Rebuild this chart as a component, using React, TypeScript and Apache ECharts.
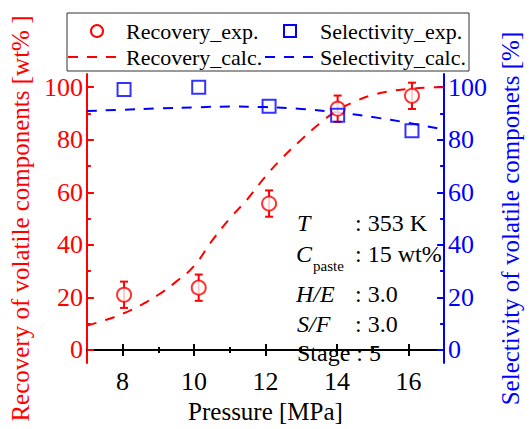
import React, { useEffect, useRef } from "react";
import * as echarts from "echarts";

const pressure = [8.04, 10.13, 12.1, 14.02, 16.1];
const recoveryExp = [21, 23.7, 55.7, 91.8, 96.7];
const recoveryErr = [5, 5, 5, 5, 5];
const selectivityExp = [99.1, 100, 92.7, 89.3, 83.4];

const calcPressureRec = [7, 7.5, 8, 8.5, 9, 9.5, 10, 10.5, 11, 11.5, 12, 12.5, 13, 13.5, 14, 14.5, 15, 15.5, 16, 16.5, 17];
const recoveryCalc = [9.3, 11.3, 13.8, 17, 21, 26, 32, 41.5, 50, 57.5, 66, 73.5, 80, 86, 91, 94.5, 97, 98.5, 99.3, 99.8, 100];

const calcPressureSel = [7, 8, 9, 10, 11, 12, 13, 14, 15, 16, 17];
const selectivityCalc = [90.9, 91.4, 91.9, 92.3, 92.6, 92.4, 91.7, 90.4, 88.6, 86.4, 83.8];

const xMajorTicks = [8, 10, 12, 14, 16];
const xMinorTicks = [9, 11, 13, 15];
const yMajorTicks = [0, 20, 40, 60, 80, 100];
const yMinorTicks = [10, 30, 50, 70, 90];

const legendNames = ["Recovery_exp.", "Selectivity_exp.", "Recovery_calc.", "Selectivity_calc."];

const FONT = "Liberation Serif";
const RED = "#ff0000";
const BLUE = "#0000ff";

export default function App() {
  const ref = useRef<HTMLDivElement>(null);
  useEffect(() => {
    if (!ref.current) return;
    const chart = echarts.init(ref.current, undefined, { renderer: "svg" });

    const xBase = (pos: string, show: boolean, ticks: number[], len: number, labels: boolean, extra: any = {}) => ({
      type: "value",
      min: 7,
      max: 17,
      position: pos,
      splitLine: { show: false },
      axisLine: { show, lineStyle: { color: "#000", width: 2 } },
      axisTick: { show: true, inside: true, length: len, customValues: ticks, lineStyle: { color: "#000", width: 2 } },
      axisLabel: labels
        ? { show: true, customValues: ticks, color: "#000", fontSize: 26, fontFamily: FONT, margin: 5 }
        : { show: false },
      ...extra,
    });

    const yBase = (pos: string, color: string, show: boolean, ticks: number[], len: number, labels: boolean, extra: any = {}) => ({
      type: "value",
      min: -5,
      max: 105,
      position: pos,
      splitLine: { show: false },
      axisLine: { show, onZero: false, lineStyle: { color, width: 2 } },
      axisTick: { show: true, inside: true, length: len, customValues: ticks, lineStyle: { color, width: 2 } },
      axisLabel: labels
        ? { show: true, customValues: ticks, color, fontSize: 26, fontFamily: FONT, margin: 4 }
        : { show: false },
      ...extra,
    });

    const txt = (x: number, y: number, text: string, size = 24, italic = false) => ({
      type: "text",
      x,
      y,
      style: {
        text,
        fontFamily: FONT,
        fontSize: size,
        fontStyle: italic ? "italic" : "normal",
        fill: "#000",
        verticalAlign: "middle",
        align: "left",
      },
      z: 20,
    });

    const dash = (x1: number, x2: number, y: number, color: string) => ({
      type: "line",
      shape: { x1, y1: y, x2, y2: y },
      style: { stroke: color, lineWidth: 2, lineDash: [10, 9] },
      z: 20,
    });

    chart.setOption({
      animation: false,
      textStyle: { fontFamily: FONT },
      grid: { left: 86, right: 72, top: 74, bottom: 52, containLabel: false },
      xAxis: [
        xBase("bottom", true, xMajorTicks, 6, true, {
          name: "Pressure [MPa]",
          nameLocation: "middle",
          nameGap: 27,
          nameTextStyle: { fontFamily: FONT, fontSize: 25, color: "#000" },
        }),
        xBase("bottom", false, xMinorTicks, 3, false),
        xBase("top", true, xMajorTicks, 6, false),
        xBase("top", false, xMinorTicks, 3, false),
      ],
      yAxis: [
        yBase("left", RED, true, yMajorTicks, 7, true, {
          name: "Recovery of volatile components [wt% ]",
          nameLocation: "middle",
          nameRotate: 90,
          nameGap: 47,
          nameTextStyle: { fontFamily: FONT, fontSize: 25, color: RED },
        }),
        yBase("right", BLUE, true, yMajorTicks, 7, true, {
          name: "Selectivity of volatile componets [%]",
          nameLocation: "middle",
          nameRotate: 90,
          nameGap: 49,
          nameTextStyle: { fontFamily: FONT, fontSize: 25, color: BLUE },
        }),
        yBase("left", RED, false, yMinorTicks, 4, false),
        yBase("right", BLUE, false, yMinorTicks, 4, false),
      ],
      series: [
        {
          type: "line",
          name: legendNames[2],
          xAxisIndex: 0,
          yAxisIndex: 0,
          data: calcPressureRec.map((p, i) => [p, recoveryCalc[i]]),
          symbol: "none",
          smooth: true,
          lineStyle: { color: RED, width: 2, type: [10, 9] },
          itemStyle: { color: RED },
          z: 2,
        },
        {
          type: "line",
          name: legendNames[3],
          xAxisIndex: 0,
          yAxisIndex: 1,
          data: calcPressureSel.map((p, i) => [p, selectivityCalc[i]]),
          symbol: "none",
          smooth: true,
          lineStyle: { color: BLUE, width: 2, type: [10, 9] },
          itemStyle: { color: BLUE },
          z: 2,
        },
        {
          type: "custom",
          name: "Recovery_err",
          xAxisIndex: 0,
          yAxisIndex: 0,
          data: pressure.map((p, i) => [p, recoveryExp[i] - recoveryErr[i], recoveryExp[i] + recoveryErr[i]]),
          encode: { x: 0, y: [1, 2] },
          renderItem: (params: any, api: any) => {
            const x = api.value(0);
            const lo = api.coord([x, api.value(1)]);
            const hi = api.coord([x, api.value(2)]);
            const w = 4;
            const style = { stroke: RED, lineWidth: 2 };
            return {
              type: "group",
              children: [
                { type: "line", shape: { x1: lo[0], y1: lo[1], x2: hi[0], y2: hi[1] }, style },
                { type: "line", shape: { x1: lo[0] - w, y1: lo[1], x2: lo[0] + w, y2: lo[1] }, style },
                { type: "line", shape: { x1: hi[0] - w, y1: hi[1], x2: hi[0] + w, y2: hi[1] }, style },
              ],
            };
          },
          z: 3,
        },
        {
          type: "scatter",
          name: legendNames[0],
          xAxisIndex: 0,
          yAxisIndex: 0,
          data: pressure.map((p, i) => [p, recoveryExp[i]]),
          symbol: "circle",
          symbolSize: 14,
          itemStyle: { color: "#fff", borderColor: RED, borderWidth: 2 },
          z: 4,
        },
        {
          type: "scatter",
          name: legendNames[1],
          xAxisIndex: 0,
          yAxisIndex: 1,
          data: pressure.map((p, i) => [p, selectivityExp[i]]),
          symbol: "rect",
          symbolSize: 13,
          itemStyle: { color: "rgba(255,255,255,0)", borderColor: BLUE, borderWidth: 2 },
          z: 5,
        },
      ],
      graphic: [
        {
          type: "rect",
          shape: { x: 67, y: 13, width: 402, height: 58 },
          style: { fill: "#fff", stroke: "#333", lineWidth: 1 },
          z: 10,
        },
        {
          type: "circle",
          shape: { cx: 97, cy: 31, r: 6 },
          style: { fill: "#fff", stroke: RED, lineWidth: 2 },
          z: 20,
        },
        txt(126, 31, legendNames[0], 22),
        {
          type: "rect",
          shape: { x: 284, y: 25, width: 12, height: 12 },
          style: { fill: "none", stroke: BLUE, lineWidth: 2 },
          z: 20,
        },
        txt(320, 31, legendNames[1], 22),
        dash(68, 121, 57, RED),
        txt(126, 57, legendNames[2], 22),
        dash(265, 316, 57, BLUE),
        txt(320, 57, legendNames[3], 22),
        txt(297, 223, "T", 24, true),
        txt(355, 223, ": 353 K"),
        txt(296, 254, "C", 24, true),
        txt(313, 266, "paste", 15),
        txt(355, 254, ": 15 wt%"),
        txt(296, 294, "H/E", 24, true),
        txt(355, 294, ": 3.0"),
        txt(297, 324, "S/F", 24, true),
        txt(355, 324, ": 3.0"),
        txt(297, 353, "Stage : 5"),
      ],
    });
    return () => chart.dispose();
  }, []);
  return <div ref={ref} style={{ position: "absolute", left: 0, top: 0, width: 531, height: 429 }} />;
}
